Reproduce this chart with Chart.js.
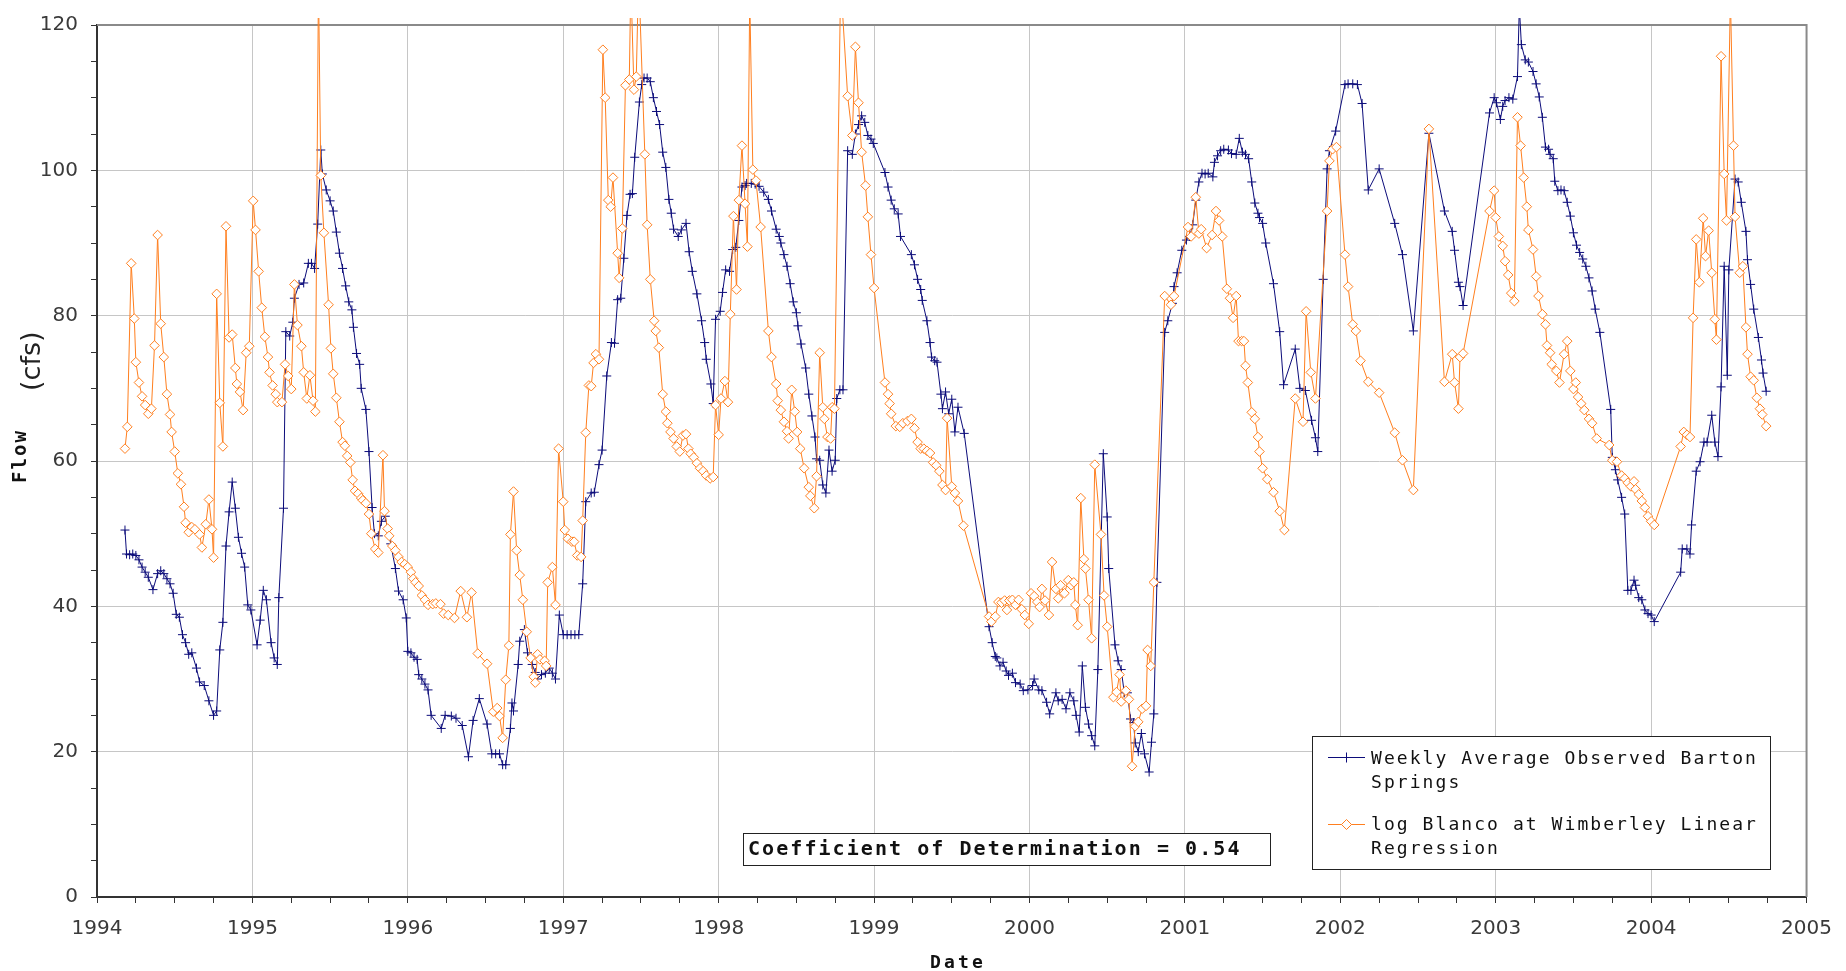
<!DOCTYPE html>
<html>
<head>
<meta charset="utf-8">
<title>Barton Springs flow</title>
<script src="https://cdn.jsdelivr.net/npm/chart.js@4.4.1/dist/chart.umd.min.js"></script>
<style>
  html, body { margin: 0; padding: 0; background: #fff; }
  canvas { display: block; }
</style>
</head>
<body>
<canvas id="flowChart" width="1846" height="971"></canvas>
<script>
// weekly average observed flow at Barton Springs (decimal year, cfs)
const bartonDate = [
  1994.18, 1994.19, 1994.21, 1994.23, 1994.25, 1994.27, 1994.29, 1994.31, 1994.33, 1994.36,
  1994.39, 1994.41, 1994.43, 1994.45, 1994.47, 1994.49, 1994.51, 1994.53, 1994.55, 1994.57,
  1994.59, 1994.61, 1994.64, 1994.66, 1994.69, 1994.72, 1994.75, 1994.77, 1994.79, 1994.81,
  1994.83, 1994.85, 1994.87, 1994.89, 1994.91, 1994.93, 1994.95, 1994.97, 1994.99,
  1995.03, 1995.05, 1995.07, 1995.09, 1995.12, 1995.14, 1995.16, 1995.17, 1995.20, 1995.215,
  1995.24, 1995.26, 1995.27, 1995.30, 1995.33, 1995.36, 1995.38, 1995.40, 1995.42, 1995.44,
  1995.45, 1995.475, 1995.50, 1995.52, 1995.54, 1995.56, 1995.58, 1995.60, 1995.62, 1995.64,
  1995.65, 1995.67, 1995.69, 1995.70, 1995.73, 1995.75, 1995.77, 1995.785, 1995.81, 1995.83,
  1995.855, 1995.87, 1995.89, 1995.92, 1995.94, 1995.97, 1995.99,
  1996.00, 1996.02, 1996.04, 1996.06, 1996.07, 1996.09, 1996.11, 1996.13, 1996.15, 1996.215,
  1996.24, 1996.28, 1996.31, 1996.35, 1996.39, 1996.42, 1996.46, 1996.51, 1996.54, 1996.565,
  1996.59, 1996.61, 1996.63, 1996.66, 1996.67, 1996.68, 1996.71, 1996.72, 1996.75, 1996.77,
  1996.80, 1996.82, 1996.83, 1996.86, 1996.885, 1996.91, 1996.93, 1996.95, 1996.975,
  1997.00, 1997.025, 1997.05, 1997.075, 1997.10, 1997.125, 1997.145, 1997.18, 1997.20, 1997.23,
  1997.25, 1997.28, 1997.31, 1997.33, 1997.35, 1997.37, 1997.39, 1997.41, 1997.43, 1997.445,
  1997.46, 1997.49, 1997.505, 1997.52, 1997.54, 1997.56, 1997.58, 1997.60, 1997.62, 1997.64,
  1997.66, 1997.68, 1997.695, 1997.71, 1997.74, 1997.76, 1997.79, 1997.81, 1997.83, 1997.86,
  1997.89, 1997.91, 1997.92, 1997.95, 1997.965, 1997.98,
  1998.01, 1998.025, 1998.045, 1998.07, 1998.09, 1998.11, 1998.13, 1998.15, 1998.17, 1998.18,
  1998.21, 1998.235, 1998.26, 1998.29, 1998.32, 1998.34, 1998.37, 1998.39, 1998.40, 1998.42,
  1998.44, 1998.46, 1998.48, 1998.50, 1998.51, 1998.53, 1998.56, 1998.58, 1998.60, 1998.62,
  1998.63, 1998.65, 1998.67, 1998.69, 1998.71, 1998.73, 1998.75, 1998.76, 1998.78, 1998.80,
  1998.83, 1998.86, 1998.88, 1998.90, 1998.92, 1998.94, 1998.96, 1998.98, 1998.995,
  1999.07, 1999.09, 1999.11, 1999.13, 1999.155, 1999.17, 1999.24, 1999.26, 1999.28, 1999.30,
  1999.31, 1999.34, 1999.36, 1999.37, 1999.39, 1999.405, 1999.43, 1999.44, 1999.46, 1999.48,
  1999.50, 1999.52, 1999.54, 1999.58, 1999.74, 1999.76, 1999.78, 1999.79, 1999.81, 1999.83,
  1999.85, 1999.865, 1999.89, 1999.91, 1999.94, 1999.96, 1999.99,
  2000.02, 2000.03, 2000.06, 2000.08, 2000.11, 2000.13, 2000.17, 2000.185, 2000.21, 2000.235,
  2000.26, 2000.285, 2000.30, 2000.32, 2000.34, 2000.36, 2000.38, 2000.40, 2000.42, 2000.44,
  2000.475, 2000.50, 2000.51, 2000.55, 2000.57, 2000.59, 2000.61, 2000.63, 2000.65, 2000.67,
  2000.68, 2000.70, 2000.72, 2000.74, 2000.77, 2000.785, 2000.80, 2000.82, 2000.87, 2000.89,
  2000.92, 2000.93, 2000.95, 2000.98,
  2001.01, 2001.03, 2001.05, 2001.07, 2001.09, 2001.11, 2001.13, 2001.15, 2001.18, 2001.19,
  2001.21, 2001.23, 2001.25, 2001.28, 2001.30, 2001.33, 2001.35, 2001.37, 2001.39, 2001.41,
  2001.43, 2001.45, 2001.47, 2001.48, 2001.50, 2001.52, 2001.57, 2001.61, 2001.635, 2001.71,
  2001.74, 2001.775, 2001.815, 2001.84, 2001.855, 2001.89, 2001.915, 2001.93, 2001.97,
  2002.03, 2002.05, 2002.08, 2002.11, 2002.14, 2002.18, 2002.25, 2002.35, 2002.40, 2002.47,
  2002.57, 2002.67, 2002.72, 2002.735, 2002.76, 2002.77, 2002.79, 2002.96, 2002.99,
  2003.005, 2003.03, 2003.045, 2003.06, 2003.085, 2003.11, 2003.14, 2003.152, 2003.165, 2003.19,
  2003.21, 2003.24, 2003.26, 2003.28, 2003.30, 2003.32, 2003.34, 2003.35, 2003.37, 2003.38,
  2003.40, 2003.42, 2003.44, 2003.46, 2003.48, 2003.50, 2003.52, 2003.54, 2003.56, 2003.58,
  2003.60, 2003.62, 2003.64, 2003.67, 2003.74, 2003.75, 2003.77, 2003.785, 2003.81, 2003.83,
  2003.85, 2003.87, 2003.89, 2003.90, 2003.92, 2003.94, 2003.96, 2003.98,
  2004.00, 2004.02, 2004.19, 2004.20, 2004.23, 2004.25, 2004.26, 2004.29, 2004.315, 2004.34,
  2004.36, 2004.39, 2004.41, 2004.43, 2004.45, 2004.47, 2004.49, 2004.50, 2004.54, 2004.56,
  2004.58, 2004.61, 2004.62, 2004.64, 2004.66, 2004.69, 2004.71, 2004.72, 2004.74
];
const bartonFlow = [
  50.5, 47.2, 47.1, 47.2, 47.0, 46.4, 45.4, 44.7, 44.0, 42.3,
  44.5, 44.9, 44.5, 43.8, 43.1, 41.8, 38.9, 38.5, 36.1, 35.0,
  33.4, 33.6, 31.5, 29.6, 29.1, 27.0, 25.0, 25.6, 34.0, 37.8,
  48.3, 53.0, 57.1, 53.5, 49.5, 47.3, 45.4, 40.2, 39.5,
  34.7, 38.1, 42.2, 40.9, 35.0, 32.9, 32.0, 41.2, 53.5, 77.8,
  77.2, 79.1, 82.4, 84.3, 84.5, 87.2, 87.2, 86.5, 92.6, 102.8,
  99.5, 97.3, 95.8, 94.4, 91.5, 88.6, 86.5, 84.1, 81.9, 80.8,
  78.4, 74.8, 73.3, 70.0, 67.1, 61.3, 53.6, 50.0, 49.7, 51.7,
  52.4, 50.6, 48.6, 45.2, 42.1, 40.9, 38.4,
  33.8, 33.6, 33.0, 32.7, 30.6, 30.0, 29.3, 28.5, 25.0, 23.2,
  25.0, 24.9, 24.6, 23.6, 19.3, 24.3, 27.3, 23.8, 19.7, 19.7,
  19.7, 18.2, 18.2, 23.2, 26.7, 25.6, 32.0, 35.2, 36.8, 33.6,
  32.0, 30.9, 30.0, 30.6, 30.8, 31.5, 30.8, 30.0, 38.8,
  36.1, 36.1, 36.1, 36.1, 36.1, 43.1, 54.4, 55.6, 55.7, 59.5,
  61.5, 71.7, 76.3, 76.2, 82.2, 82.4, 87.9, 93.8, 96.7, 96.8,
  101.8, 109.4, 111.8, 112.7, 112.7, 112.2, 110.0, 108.1, 106.3, 102.5,
  100.4, 96.0, 94.1, 91.9, 90.9, 91.8, 92.7, 88.8, 86.1, 83.0,
  79.3, 76.3, 74.0, 70.6, 67.9, 79.5,
  80.6, 83.2, 86.3, 86.1, 89.1, 89.4, 93.1, 97.7, 97.9, 98.2,
  98.2, 98.1, 97.8, 97.0, 96.0, 94.4, 91.9, 90.9, 90.0, 88.4,
  86.8, 84.4, 81.9, 80.4, 78.6, 76.1, 72.8, 69.2, 66.2, 63.3,
  60.3, 60.1, 56.7, 55.6, 61.5, 58.6, 60.1, 68.6, 69.8, 69.8,
  102.7, 102.2, 105.0, 106.3, 107.5, 106.6, 104.8, 104.3, 103.7,
  99.7, 97.7, 95.9, 94.7, 94.0, 90.9, 88.4, 87.0, 85.0, 83.6,
  82.1, 79.3, 76.3, 74.3, 73.8, 73.6, 69.2, 67.2, 69.5, 66.5,
  68.5, 64.0, 67.4, 63.8, 37.2, 35.0, 33.1, 32.9, 31.8, 32.3,
  31.1, 30.5, 30.8, 29.5, 29.3, 28.4, 28.5,
  29.1, 30.0, 28.5, 28.4, 26.8, 25.2, 28.1, 27.0, 27.2, 25.9,
  28.1, 27.0, 25.0, 22.7, 31.8, 26.1, 23.8, 22.2, 20.8, 31.3,
  61.0, 52.3, 45.2, 34.7, 32.5, 31.3, 28.1, 28.1, 24.5, 24.0,
  21.2, 20.0, 22.5, 19.7, 17.2, 21.3, 25.2, 43.3, 77.7, 79.3,
  81.7, 84.0, 85.9, 89.0,
  90.4, 90.9, 92.5, 95.9, 98.4, 99.6, 99.5, 99.6, 99.1, 101.1,
  102.0, 102.7, 102.9, 102.8, 102.3, 102.2, 104.4, 102.5, 102.2, 101.6,
  98.4, 95.5, 94.1, 93.5, 92.7, 90.0, 84.4, 77.8, 70.5, 75.4,
  70.0, 69.7, 65.6, 63.2, 61.3, 85.0, 100.2, 102.7, 105.4,
  111.8, 111.9, 111.9, 111.8, 109.2, 97.3, 100.2, 92.7, 88.4, 77.9,
  105.1, 94.4, 91.6, 89.0, 84.6, 84.0, 81.4, 107.9, 110.0,
  109.3, 107.0, 108.8, 109.6, 110.0, 109.8, 112.9, 122.5, 117.3, 115.2,
  114.9, 113.6, 111.9, 110.1, 107.3, 103.2, 102.9, 102.2, 101.6, 98.5,
  97.2, 97.3, 97.2, 95.6, 93.7, 91.4, 89.7, 88.7, 87.8, 86.8,
  85.2, 83.4, 80.9, 77.7, 67.1, 60.5, 58.8, 57.4, 55.0, 52.7,
  42.2, 42.2, 43.6, 42.9, 41.2, 40.9, 39.5, 39.0,
  38.8, 37.9, 44.7, 47.9, 47.9, 47.2, 51.2, 58.6, 59.9, 62.6,
  62.6, 66.3, 62.6, 60.6, 70.2, 86.8, 71.8, 86.3, 98.8, 98.4,
  95.6, 91.6, 87.7, 84.3, 80.9, 77.0, 73.9, 72.1, 69.6
];

// log Blanco at Wimberley linear regression (decimal year, cfs)
const blancoDate = [
  1994.18, 1994.195, 1994.22, 1994.24, 1994.25, 1994.27, 1994.29, 1994.31, 1994.33, 1994.35,
  1994.37, 1994.39, 1994.41, 1994.43, 1994.45, 1994.47, 1994.48, 1994.50, 1994.52, 1994.54,
  1994.56, 1994.57, 1994.59, 1994.61, 1994.63, 1994.66, 1994.675, 1994.70, 1994.72, 1994.74,
  1994.75, 1994.77, 1994.79, 1994.81, 1994.83, 1994.85, 1994.87, 1994.89, 1994.90, 1994.92,
  1994.94, 1994.96, 1994.98,
  1995.005, 1995.02, 1995.04, 1995.06, 1995.08, 1995.10, 1995.11, 1995.13, 1995.15, 1995.16,
  1995.19, 1995.21, 1995.23, 1995.25, 1995.27, 1995.29, 1995.315, 1995.33, 1995.35, 1995.37,
  1995.39, 1995.405, 1995.425, 1995.44, 1995.46, 1995.49, 1995.505, 1995.52, 1995.54, 1995.56,
  1995.58, 1995.595, 1995.61, 1995.63, 1995.645, 1995.66, 1995.68, 1995.70, 1995.71, 1995.73,
  1995.75, 1995.765, 1995.79, 1995.81, 1995.84, 1995.85, 1995.87, 1995.88, 1995.90, 1995.92,
  1995.94, 1995.96, 1995.98,
  1996.00, 1996.02, 1996.035, 1996.05, 1996.07, 1996.09, 1996.11, 1996.13, 1996.16, 1996.18,
  1996.21, 1996.23, 1996.26, 1996.30, 1996.34, 1996.38, 1996.41, 1996.45, 1996.51, 1996.55,
  1996.575, 1996.59, 1996.61, 1996.63, 1996.65, 1996.66, 1996.68, 1996.70, 1996.72, 1996.74,
  1996.765, 1996.79, 1996.81, 1996.82, 1996.835, 1996.85, 1996.88, 1996.89, 1996.90, 1996.93,
  1996.95, 1996.97,
  1997.00, 1997.01, 1997.03, 1997.055, 1997.07, 1997.09, 1997.115, 1997.125, 1997.145, 1997.165,
  1997.18, 1997.195, 1997.21, 1997.23, 1997.255, 1997.27, 1997.29, 1997.305, 1997.32, 1997.35,
  1997.36, 1997.38, 1997.40, 1997.425, 1997.435, 1997.455, 1997.47, 1997.485, 1997.525, 1997.54,
  1997.56, 1997.585, 1997.595, 1997.615, 1997.64, 1997.66, 1997.67, 1997.69, 1997.71, 1997.73,
  1997.75, 1997.77, 1997.79, 1997.805, 1997.82, 1997.84, 1997.86, 1997.88, 1997.90, 1997.92,
  1997.945, 1997.965, 1997.98,
  1998.00, 1998.015, 1998.04, 1998.06, 1998.075, 1998.095, 1998.115, 1998.13, 1998.15, 1998.17,
  1998.185, 1998.20, 1998.22, 1998.24, 1998.27, 1998.32, 1998.34, 1998.37, 1998.38, 1998.40,
  1998.42, 1998.44, 1998.45, 1998.47, 1998.49, 1998.505, 1998.525, 1998.55, 1998.58, 1998.59,
  1998.615, 1998.63, 1998.65, 1998.67, 1998.68, 1998.70, 1998.72, 1998.73, 1998.745, 1998.785,
  1998.83, 1998.86, 1998.88, 1998.90, 1998.92, 1998.945, 1998.96, 1998.98,
  1999.00, 1999.07, 1999.09, 1999.10, 1999.11, 1999.14, 1999.165, 1999.185, 1999.215, 1999.24,
  1999.26, 1999.28, 1999.30, 1999.32, 1999.34, 1999.36, 1999.38, 1999.40, 1999.42, 1999.44,
  1999.46, 1999.47, 1999.50, 1999.52, 1999.54, 1999.575, 1999.74, 1999.755, 1999.78, 1999.80,
  1999.82, 1999.84, 1999.855, 1999.87, 1999.89, 1999.91, 1999.93, 1999.95, 1999.97, 1999.995,
  2000.01, 2000.03, 2000.05, 2000.065, 2000.08, 2000.10, 2000.125, 2000.145, 2000.17, 2000.185,
  2000.20, 2000.225, 2000.25, 2000.268, 2000.285, 2000.295, 2000.31, 2000.33, 2000.35, 2000.36,
  2000.38, 2000.40, 2000.42, 2000.46, 2000.48, 2000.50, 2000.54, 2000.56, 2000.58, 2000.59,
  2000.62, 2000.64, 2000.66, 2000.68, 2000.70, 2000.725, 2000.75, 2000.76, 2000.78, 2000.80,
  2000.87, 2000.91, 2000.93,
  2001.02, 2001.04, 2001.07, 2001.09, 2001.105, 2001.14, 2001.175, 2001.20, 2001.22, 2001.24,
  2001.27, 2001.29, 2001.31, 2001.33, 2001.345, 2001.365, 2001.38, 2001.39, 2001.405, 2001.43,
  2001.45, 2001.47, 2001.48, 2001.50, 2001.53, 2001.57, 2001.61, 2001.64, 2001.71, 2001.76,
  2001.78, 2001.81, 2001.84, 2001.915, 2001.93, 2001.95, 2001.975,
  2002.03, 2002.05, 2002.08, 2002.10, 2002.13, 2002.18, 2002.25, 2002.35, 2002.40, 2002.47,
  2002.57, 2002.67, 2002.72, 2002.735, 2002.76, 2002.77, 2002.79, 2002.96, 2002.99,
  2003.00, 2003.02, 2003.045, 2003.06, 2003.08, 2003.10, 2003.12, 2003.14, 2003.16, 2003.18,
  2003.20, 2003.21, 2003.24, 2003.26, 2003.275, 2003.30, 2003.32, 2003.33, 2003.35, 2003.36,
  2003.39, 2003.41, 2003.44, 2003.46, 2003.48, 2003.50, 2003.515, 2003.53, 2003.55, 2003.57,
  2003.60, 2003.62, 2003.65, 2003.73, 2003.75, 2003.78, 2003.81, 2003.83, 2003.85, 2003.87,
  2003.89, 2003.90, 2003.92, 2003.94, 2003.96, 2003.98,
  2004.00, 2004.02, 2004.19, 2004.21, 2004.23, 2004.25, 2004.27, 2004.29, 2004.31, 2004.335,
  2004.35, 2004.37, 2004.39, 2004.41, 2004.42, 2004.45, 2004.47, 2004.485, 2004.51, 2004.53,
  2004.54, 2004.57, 2004.59, 2004.61, 2004.62, 2004.64, 2004.66, 2004.68, 2004.70, 2004.715,
  2004.74
];
const blancoFlow = [
  61.7, 64.7, 87.2, 79.6, 73.6, 70.8, 68.9, 67.7, 66.5, 67.2,
  75.9, 91.1, 78.9, 74.3, 69.2, 66.4, 64.0, 61.3, 58.3, 56.8,
  53.7, 51.5, 50.2, 50.9, 50.6, 49.9, 48.1, 51.3, 54.7, 50.6,
  46.7, 83.0, 68.0, 62.0, 92.3, 77.0, 77.4, 72.8, 70.6, 69.5,
  67.0, 74.9, 75.8,
  95.8, 91.8, 86.1, 81.1, 77.1, 74.3, 72.2, 70.4, 69.2, 68.1,
  68.1, 73.3, 71.7, 69.9, 84.3, 78.7, 75.8, 72.2, 68.6, 71.8,
  68.3, 66.8, 126, 99.3, 91.4, 81.5, 75.5, 72.0, 68.7, 65.4,
  62.6, 62.1, 60.7, 59.8, 57.4, 55.9, 55.5, 54.9, 54.6, 54.2,
  52.7, 50.0, 47.9, 47.4, 60.8, 53.1, 50.7, 49.7, 48.3, 47.7,
  46.8, 46.1, 45.8,
  45.4, 44.7, 43.8, 43.3, 42.8, 41.5, 40.9, 40.2, 40.3, 40.4,
  40.3, 39.0, 38.8, 38.4, 42.1, 38.5, 41.9, 33.5, 32.1, 25.5,
  26.0, 24.9, 21.9, 29.9, 34.6, 49.9, 55.8, 47.7, 44.3, 40.9,
  36.5, 32.9, 30.3, 29.5, 33.4, 32.7, 32.5, 31.8, 43.3, 45.4,
  40.2, 61.7,
  54.4, 50.5, 49.3, 48.9, 48.9, 47.0, 46.8, 51.8, 63.9, 70.4,
  70.3, 73.5, 74.7, 74.0, 116.6, 110.0, 95.9, 95.0, 99.0, 88.6,
  85.2, 92.0, 111.7, 112.5, 126, 111.1, 112.9, 127, 102.2, 92.5,
  85.0, 79.3, 77.9, 75.6, 69.2, 66.8, 65.2, 64.0, 63.1, 62.0,
  61.3, 63.5, 63.7, 61.7, 61.0, 60.5, 59.7, 59.0, 58.6, 58.0,
  57.6, 57.8, 67.7,
  63.6, 68.6, 71.0, 68.1, 80.2, 93.7, 83.6, 95.9, 103.4, 95.4,
  89.5, 124, 100.1, 98.6, 92.2, 77.9, 74.3, 70.6, 68.3, 67.0,
  65.4, 64.1, 63.1, 69.8, 66.8, 64.0, 61.7, 59.0, 56.4, 55.2,
  53.5, 57.9, 74.9, 67.4, 65.8, 63.3, 63.1, 67.4, 67.2, 126,
  110.2, 104.8, 117.0, 109.3, 102.5, 97.9, 93.6, 88.4,
  83.8, 70.8, 69.2, 67.9, 66.5, 64.8, 64.7, 65.2, 65.5, 65.8,
  64.5, 62.6, 61.7, 61.7, 61.4, 61.1, 59.8, 59.4, 58.6, 56.7,
  56.0, 65.9, 56.5, 55.6, 54.5, 51.1, 38.6, 37.9, 38.6, 40.6,
  40.5, 40.8, 39.5, 40.8, 40.9, 40.2, 40.9, 39.6, 38.8, 37.6,
  41.8, 41.4, 40.6, 39.9, 42.4, 40.8, 38.8, 46.1, 42.4, 41.1,
  42.9, 41.8, 43.6, 42.9, 43.3, 40.2, 37.4, 54.9, 46.5, 45.2,
  40.9, 35.6, 59.5, 49.9, 41.5, 37.2, 27.5, 28.2, 30.6, 26.9,
  28.4, 27.2, 18.0, 23.5, 24.1, 25.9, 26.3, 34.0, 31.8, 43.3,
  82.7, 81.5, 82.7,
  92.2, 90.9, 96.3, 91.3, 91.9, 89.3, 91.1, 94.4, 93.1, 90.9,
  83.7, 82.4, 79.7, 82.7, 76.5, 76.5, 76.5, 73.1, 70.8, 66.7,
  65.8, 63.3, 61.3, 59.0, 57.5, 55.7, 53.1, 50.5, 68.6, 65.4,
  80.6, 72.2, 68.6, 94.4, 101.3, 102.9, 103.2,
  88.4, 84.0, 78.8, 77.9, 73.8, 70.9, 69.4, 63.9, 60.1, 56.0,
  105.7, 70.9, 74.7, 70.8, 67.2, 74.3, 74.8, 94.4, 97.2,
  93.5, 90.9, 89.6, 87.5, 85.6, 83.1, 82.0, 107.3, 103.4, 99.0,
  95.0, 91.8, 89.1, 85.4, 82.7, 80.2, 78.8, 75.9, 74.9, 73.3,
  72.4, 70.8, 74.7, 76.5, 72.4, 69.9, 70.8, 68.8, 67.9, 67.0,
  65.8, 65.2, 63.1, 62.2, 60.1, 59.9, 58.0, 57.6, 57.0, 56.5,
  57.2, 56.1, 55.4, 54.5, 53.6, 52.4,
  51.7, 51.2, 62.0, 64.0, 63.6, 63.3, 79.7, 90.5, 84.6, 93.4,
  88.2, 91.7, 85.9, 79.5, 76.7, 115.7, 99.5, 93.1, 124, 103.4,
  93.6, 85.9, 86.8, 78.4, 74.7, 71.6, 71.1, 68.7, 67.2, 66.4,
  64.8
];

const seriesNames = ['Weekly Average Observed Barton Springs', 'log Blanco at Wimberley Linear Regression'];
const legendLines = [['Weekly Average Observed Barton', 'Springs'], ['log Blanco at Wimberley Linear', 'Regression']];
const noteText = 'Coefficient of Determination = 0.54';
const xTitle = 'Date';
const yTitle = ['Flow', '(cfs)'];

const navy = '#0c0c7a';
const orange = '#ff7f1f';
const gridGray = '#c6c6c6';
const axisDark = '#333333';

// where the plot frame sits on the 1846x971 page
const plotBox = { left: 97, top: 17, right: 1816, bottom: 897 };

if (bartonDate.length !== bartonFlow.length || blancoDate.length !== blancoFlow.length) {
  console.error('length mismatch', bartonDate.length, bartonFlow.length, blancoDate.length, blancoFlow.length);
}

function pairs(xs, ys) {
  return xs.map((x, i) => ({ x: x, y: ys[i] }));
}

// draw text one char at a time on a fixed pitch (wide monospace look)
function spaced(ctx, text, x, y, pitch) {
  for (let i = 0; i < text.length; i++) ctx.fillText(text[i], x + i * pitch, y);
}

const frame = {
  id: 'frame',
  beforeDatasetsDraw(chart) {
    const { ctx, chartArea: a } = chart;
    ctx.save();
    ctx.strokeStyle = '#8a8a8a';
    ctx.lineWidth = 2;
    ctx.beginPath();
    ctx.moveTo(a.left, a.top);
    ctx.lineTo(a.right, a.top);
    ctx.lineTo(a.right, a.bottom);
    ctx.stroke();
    ctx.restore();
  },
  afterDraw(chart) {
    const { ctx } = chart;
    ctx.save();
    ctx.fillStyle = '#111';
    ctx.textAlign = 'left';
    ctx.textBaseline = 'alphabetic';

    // x axis title
    ctx.font = 'bold 18px "DejaVu Sans Mono"';
    spaced(ctx, xTitle, 930, 968, 14);

    // y axis title, rotated
    ctx.save();
    ctx.translate(26, 483);
    ctx.rotate(-Math.PI / 2);
    ctx.font = 'bold 19px "DejaVu Sans Mono"';
    spaced(ctx, yTitle[0], 0, 0, 13.5);
    ctx.restore();
    ctx.save();
    ctx.translate(40, 391);
    ctx.rotate(-Math.PI / 2);
    ctx.font = '27px "DejaVu Sans"';
    ctx.fillStyle = '#222';
    ctx.fillText(yTitle[1], 0, 0);
    ctx.restore();

    // coefficient note
    ctx.fillStyle = '#fff';
    ctx.fillRect(743, 833, 527, 32);
    ctx.strokeStyle = '#222';
    ctx.lineWidth = 1;
    ctx.strokeRect(743.5, 833.5, 527, 32);
    ctx.fillStyle = '#111';
    ctx.font = 'bold 20px "DejaVu Sans Mono"';
    spaced(ctx, noteText, 748, 855, 14.1);

    // legend box
    ctx.fillStyle = '#fff';
    ctx.fillRect(1312, 736, 458, 133);
    ctx.strokeRect(1312.5, 736.5, 458, 133);
    const rows = [[757.5, 764], [824.5, 830]];
    chart.data.datasets.forEach((ds, i) => {
      const ly = rows[i][0];
      ctx.strokeStyle = ds.borderColor;
      ctx.lineWidth = 1;
      ctx.beginPath();
      ctx.moveTo(1328, ly);
      ctx.lineTo(1365, ly);
      ctx.stroke();
      const cx = 1346.5;
      ctx.beginPath();
      if (ds.pointStyle === 'cross') {
        ctx.moveTo(cx - 5, ly); ctx.lineTo(cx + 5, ly);
        ctx.moveTo(cx, ly - 5); ctx.lineTo(cx, ly + 5);
        ctx.stroke();
      } else {
        ctx.moveTo(cx - 5, ly); ctx.lineTo(cx, ly - 5);
        ctx.lineTo(cx + 5, ly); ctx.lineTo(cx, ly + 5);
        ctx.closePath();
        ctx.fillStyle = '#fff';
        ctx.fill();
        ctx.stroke();
      }
      ctx.fillStyle = '#111';
      ctx.font = '18px "DejaVu Sans Mono"';
      legendLines[i].forEach((t, k) => spaced(ctx, t, 1371, rows[i][1] + k * 23.5, 12.9));
    });
    ctx.restore();
  }
};

const tickFont = { family: 'DejaVu Sans', size: 20 };

const chart = new Chart(document.getElementById('flowChart'), {
  type: 'line',
  data: {
    datasets: [{
      label: seriesNames[0],
      data: pairs(bartonDate, bartonFlow),
      borderColor: navy,
      borderWidth: 1,
      pointStyle: 'cross',
      pointRadius: 4.5,
      pointBorderColor: navy,
      pointBorderWidth: 1,
      pointBackgroundColor: navy,
      tension: 0,
      order: 1,
      clip: { left: 2, top: 7, right: 2, bottom: 2 }
    }, {
      label: seriesNames[1],
      data: pairs(blancoDate, blancoFlow),
      borderColor: orange,
      borderWidth: 1,
      pointStyle: 'rectRot',
      pointRadius: 4.8,
      pointBorderColor: orange,
      pointBorderWidth: 1,
      pointBackgroundColor: '#fff',
      tension: 0,
      order: 0,
      clip: { left: 2, top: 7, right: 2, bottom: 2 }
    }]
  },
  options: {
    responsive: false,
    animation: false,
    devicePixelRatio: 1,
    events: [],
    layout: {
      autoPadding: false,
      padding: { left: 0, right: 1846 - plotBox.right, top: plotBox.top, bottom: 0 }
    },
    plugins: { legend: { display: false }, tooltip: { enabled: false } },
    scales: {
      x: {
        type: 'linear',
        min: 1994,
        max: 2005,
        afterFit(s) { s.height = 971 - plotBox.bottom; },
        ticks: {
          stepSize: 0.25,
          autoSkip: false,
          maxRotation: 0,
          padding: 14,
          color: '#3a3a3a',
          font: tickFont,
          callback: v => Number.isInteger(v) ? String(v) : ''
        },
        grid: {
          color: c => (c.tick && Number.isInteger(c.tick.value)) ? gridGray : 'rgba(0,0,0,0)',
          lineWidth: 1,
          tickColor: axisDark,
          tickLength: 6,
          tickWidth: 1
        },
        border: { color: axisDark, width: 2 }
      },
      y: {
        min: 0,
        max: 120,
        afterFit(s) { s.width = plotBox.left; },
        ticks: {
          stepSize: 5,
          autoSkip: false,
          padding: 13,
          color: '#3a3a3a',
          font: tickFont,
          callback: v => (Math.round(v) % 20 === 0) ? String(v) : ''
        },
        grid: {
          color: c => (c.tick && Math.round(c.tick.value) % 20 === 0) ? gridGray : 'rgba(0,0,0,0)',
          lineWidth: 1,
          tickColor: axisDark,
          tickLength: 6,
          tickWidth: 1
        },
        border: { color: axisDark, width: 2 }
      }
    }
  },
  plugins: [frame]
});
</script>
</body>
</html>
